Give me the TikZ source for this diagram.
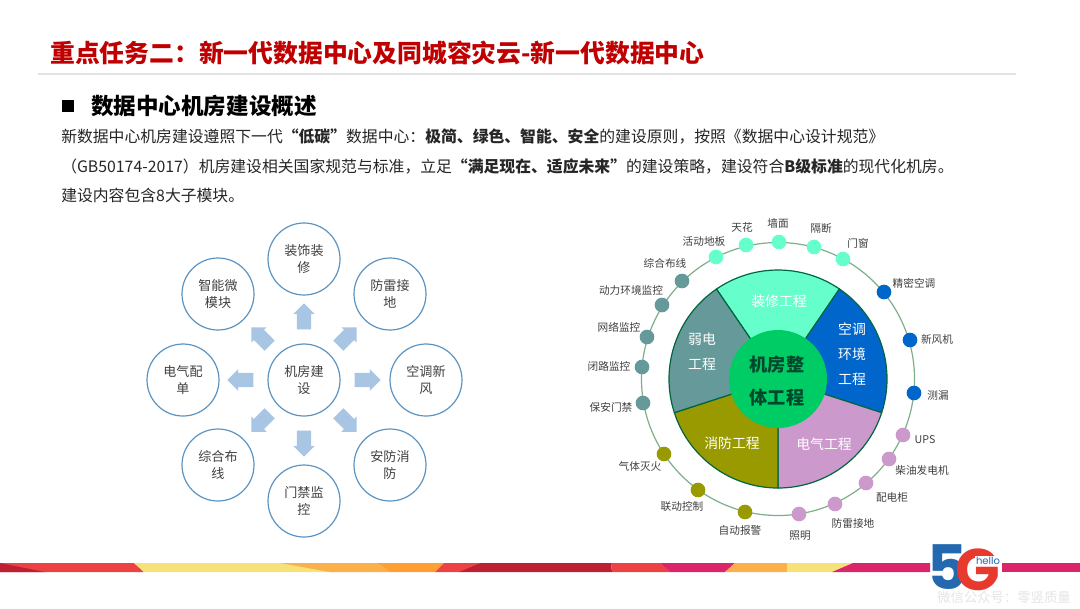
\documentclass[tikz,border=0pt]{standalone}
\usepackage{fontspec}
\usepackage{xcolor}
\setmainfont{Noto Sans CJK SC}
\newfontfamily\logofont{Poppins}
\usetikzlibrary{shapes.arrows}
\definecolor{titlered}{HTML}{C00000}
\definecolor{ruleline}{HTML}{E2E2E2}
\definecolor{ringblue}{HTML}{5B94C2}
\definecolor{arrowblue}{HTML}{A9C5E4}
\definecolor{bodygray}{HTML}{404040}
\definecolor{mintfill}{HTML}{66FFCC}
\definecolor{bluefill}{HTML}{0066CC}
\definecolor{pinkfill}{HTML}{CC99CC}
\definecolor{olivefill}{HTML}{999900}
\definecolor{tealfill}{HTML}{669999}
\definecolor{hubgreen}{HTML}{00CC66}
\definecolor{wheeledge}{HTML}{00663F}
\definecolor{ringgreen}{HTML}{7FAF88}
\definecolor{stripred}{HTML}{EC4244}
\definecolor{stripdark}{HTML}{BE2033}
\definecolor{stripyellow}{HTML}{F7E27A}
\definecolor{stripsand}{HTML}{FBB04C}
\definecolor{striporange}{HTML}{FF9F33}
\definecolor{stripcrimson}{HTML}{DA2668}
\definecolor{logoblue}{HTML}{2468B0}
\definecolor{logored}{HTML}{E8392F}
\tikzset{
  dc title/.style={anchor=west, inner sep=0pt, font=\fontsize{18.6}{22}\selectfont\bfseries, text=titlered},
  dc heading/.style={anchor=west, inner sep=0pt, font=\fontsize{16.9}{20}\selectfont\bfseries, text=black},
  dc body/.style={anchor=west, inner sep=0pt, font=\fontsize{11.87}{14}\selectfont, text=black!85},
  dc module/.style={
    circle,
    draw=ringblue,
    line width=0.9pt,
    fill=white,
    minimum size=54pt,
    inner sep=0pt,
    align=center,
    text=bodygray,
    font=\fontsize{9.8}{12.3}\selectfont,
  },
  dc arrow/.style={
    single arrow,
    fill=arrowblue,
    minimum height=19.5pt,
    inner xsep=0pt,
    inner ysep=5.2pt,
    single arrow head extend=2.7pt,
    single arrow head indent=0pt,
  },
  dc sector/.style={draw=wheeledge, line width=0.9pt, line join=round},
  dc sector text/.style={align=center, inner sep=0pt, text=white, font=\fontsize{10.4}{18.75}\selectfont},
  dc hub/.style={circle, fill=hubgreen, minimum size=73.5pt, inner sep=0pt},
  dc hub text/.style={align=center, inner sep=0pt, text=wheeledge!70!black, font=\fontsize{13.6}{25}\selectfont\bfseries},
  dc ring/.style={circle, draw=ringgreen, line width=0.9pt, minimum size=204.75pt, inner sep=0pt},
  dc dot/.style={circle, minimum size=11pt, inner sep=0pt},
  dc item/.style={inner sep=0pt, text=bodygray, font=\fontsize{8}{10}\selectfont},
}

\begin{document}
\begin{tikzpicture}[x=0.75pt, y=-0.75pt]
  \useasboundingbox (0,0) rectangle (1080,608);
  \fill[white] (0,0) rectangle (1080,608);

  % header
  \node[dc title] (title) at (50,53) {重点任务二：新一代数据中心及同城容灾云-新一代数据中心};
  \coordinate (ruleL) at (38,74);
  \coordinate (ruleR) at (1016,74);
  \draw[ruleline, line width=1.4pt] (ruleL) -- (ruleR);
  \node[fill=black, minimum size=9pt, inner sep=0pt] (bullet) at (68,106) {};
  \node[dc heading] (heading) at (91,106) {数据中心机房建设概述};
  \node[dc body] (line1) at (61,136) {新数据中心机房建设遵照下一代\textbf{“低碳”}数据中心：\textbf{极简、绿色、智能、安全}的建设原则，按照《数据中心设计规范》};
  \node[dc body] (line2) at (61,166) {（GB50174-2017）机房建设相关国家规范与标准，立足\textbf{“满足现在、适应未来”}的建设策略，建设符合\textbf{B级标准}的现代化机房。};
  \node[dc body] (line3) at (61,195) {建设内容包含8大子模块。};

  % left diagram
  \node[dc module] (center) at (304,380) {机房建\\设};
  \foreach \name/\x/\y/\txt in {
    decor/304/259/装饰装\\修,
    thunder/390/294/防雷接\\地,
    aircon/426/380/空调新\\风,
    security/390/465/安防消\\防,
    access/304/501/门禁监\\控,
    cabling/218/465/综合布\\线,
    power/183/380/电气配\\单,
    smart/218/294/智能微\\模块}
    \node[dc module] (\name) at (\x,\y) {\txt};
  \foreach \name/\x/\y/\ang in {
    arrowN/304/320/90,
    arrowNE/345/339/45,
    arrowE/364/380/0,
    arrowSE/345/420/-45,
    arrowS/304/440/-90,
    arrowSW/263/420/-135,
    arrowW/244/380/180,
    arrowNW/263/339/135}
    \node[dc arrow, rotate=\ang] (\name) at (\x,\y) {};

  % right diagram
  \node[dc ring] (ring) at (778,379) {};
  \begin{scope}[shift={(778,379)}, y=0.75pt]
    \foreach \name/\from/\to/\col in {
      decor/55.7/124.4/mintfill,
      hvac/-18/55.7/bluefill,
      elec/-90/-18/pinkfill,
      fire/198/270/olivefill,
      weak/124.4/198/tealfill}
      \filldraw[dc sector, fill=\col] (0,0) -- (\from:109) arc[start angle=\from, end angle=\to, radius=109] -- cycle;
  \end{scope}
  \node[dc hub] (hub) at (778,379) {};
  \node[dc hub text] (hubtext) at (777,381) {机房整\\体工程};
  \node[dc sector text] (secdecor) at (779,301) {装修工程};
  \node[dc sector text] (sechvac) at (852,354) {空调\\环境\\工程};
  \node[dc sector text] (secweak) at (702,352) {弱电\\工程};
  \node[dc sector text] (secfire) at (732,443) {消防工程};
  \node[dc sector text] (secelec) at (824,444) {电气工程};

  \foreach \name/\x/\y/\col in {
    wood/716/257/mintfill, ceiling/746/245/mintfill, wall/779/242/mintfill,
    partition/814/247/mintfill, door/843/259/mintfill,
    precise/884/292/bluefill, fresh/910/340/bluefill, leak/914/393/bluefill,
    ups/903/435/pinkfill, diesel/889/459/pinkfill, cabinet/866/483/pinkfill,
    lightning/835/504/pinkfill, lamp/799/514/pinkfill,
    alarm/745/512/olivefill, linkage/698/490/olivefill, gas/664/454/olivefill,
    guard/643/403/tealfill, cctv/642/367/tealfill, netmon/647/337/tealfill,
    envmon/662/305/tealfill, wiring/682/281/tealfill}
    \node[dc dot, fill=\col] (\name) at (\x,\y) {};
  \foreach \name/\x/\y/\txt in {
    lwood/704/241/活动地板, lceiling/742/227/天花, lwall/778/223/墙面,
    lpartition/821/228/隔断, ldoor/858/243/门窗,
    lprecise/914/283/精密空调, lfresh/937/339/新风机, lleak/938/395/测漏,
    lups/925/440/UPS, ldiesel/922/470/柴油发电机, lcabinet/892/497/配电柜,
    llightning/853/523/防雷接地, llamp/800/536/照明,
    lalarm/740/530/自动报警, llinkage/682/506/联动控制, lgas/640/466/气体灭火,
    lguard/611/407/保安门禁, lcctv/609/366/闭路监控, lnetmon/619/327/网络监控,
    lenvmon/631/290/动力环境监控, lwiring/665/263/综合布线}
    \node[dc item] (\name) at (\x,\y) {\txt};

  % bottom strip
  \fill[stripred] (0,563) -- (134,563) -- (144,572) -- (0,572) -- cycle;
  \fill[stripdark] (0,563) -- (45,572) -- (0,572) -- cycle;
  \fill[stripyellow] (134,563) -- (290,563) -- (335,572) -- (144,572) -- cycle;
  \fill[stripsand] (280,563) -- (377,563) -- (390,572) -- (330,572) -- cycle;
  \fill[striporange] (377,563) -- (444,563) -- (435,572) -- (390,572) -- cycle;
  \fill[stripred] (444,563) -- (480,563) -- (458,572) -- (435,572) -- cycle;
  \fill[stripdark] (480,563) -- (611,563) -- (612,572) -- (458,572) -- cycle;
  \fill[stripred] (611,563) -- (660,563) -- (670,572) -- (612,572) -- cycle;
  \fill[stripcrimson] (660,563) -- (735,563) -- (725,572) -- (670,572) -- cycle;
  \fill[stripsand] (735,563) -- (787,563) -- (787,572) -- (725,572) -- cycle;
  \fill[stripyellow] (787,563) -- (853,563) -- (832,572) -- (787,572) -- cycle;
  \fill[stripcrimson] (853,563) -- (930,563) -- (930,572) -- (832,572) -- cycle;
  \fill[stripcrimson] (1002,563) -- (1080,563) -- (1080,572) -- (1002,572) -- cycle;

  % logo
  \node[inner sep=0pt, text=logoblue, font=\fontsize{46}{46}\logofont\bfseries] (five) at (947,567) {5};
  \node[inner sep=0pt, text=logored, font=\fontsize{44}{44}\logofont\bfseries] (gee) at (978,570) {G};
  \node[inner sep=0.6pt, fill=white, text=logoblue, font=\fontsize{7.5}{9}\logofont] (hello) at (988,561) {hello};
  \node[inner sep=0pt, text=black!10, font=\fontsize{10}{12}\selectfont] (mark) at (1004,597) {微信公众号：零竖质量};
\end{tikzpicture}
\end{document}
